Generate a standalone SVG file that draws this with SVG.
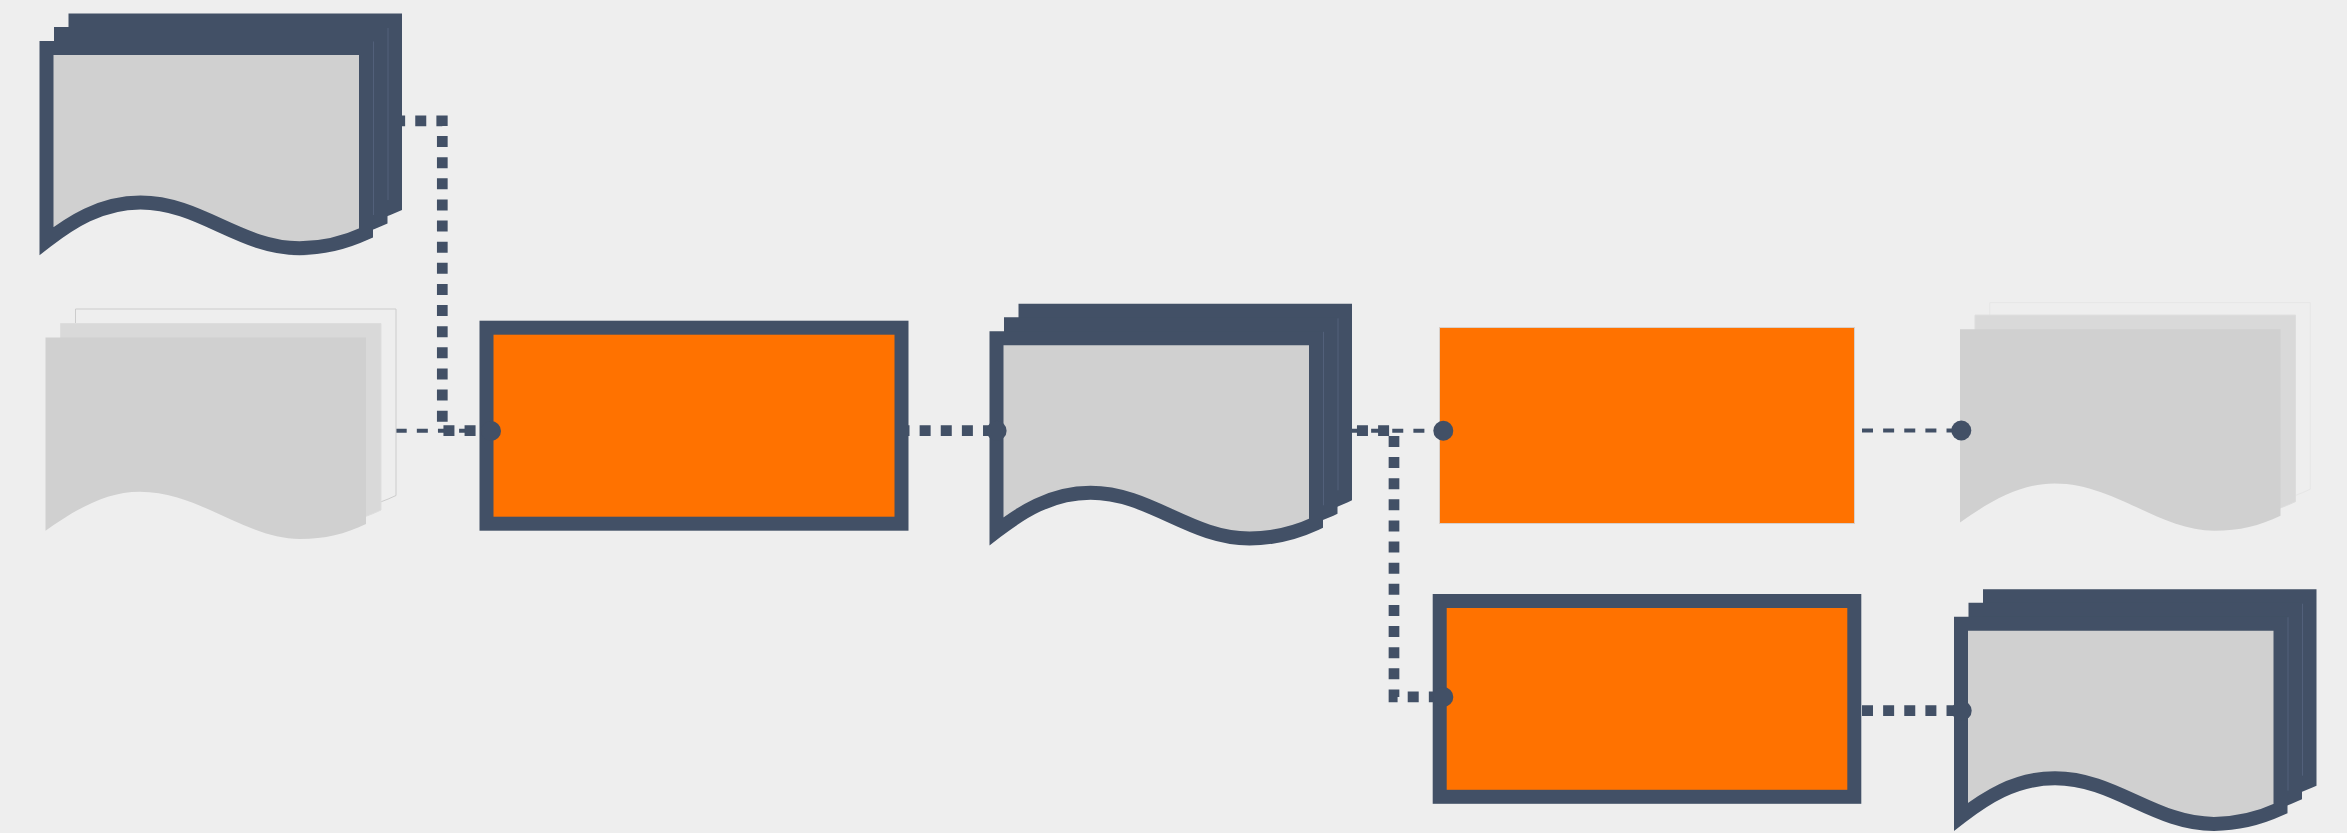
<svg xmlns="http://www.w3.org/2000/svg" xmlns:xlink="http://www.w3.org/1999/xlink" width="2347" height="833" viewBox="0 0 2347 833">
<style>
.bg{fill:#eeeeee}
.dk{fill:#d0d0d0;stroke:#425066;stroke-width:14;stroke-miterlimit:8}
.dkb{fill:#425066;stroke:#425066;stroke-width:14;stroke-miterlimit:8}
.seam{stroke:#52607a;stroke-width:1;fill:none}
.box{fill:#ff7200;stroke:#425066;stroke-width:14}
.boxlight{fill:#ff7200;stroke:#d8d0ca;stroke-width:1}
.thin{fill:none;stroke:#425066;stroke-width:4;stroke-dasharray:11 10.13}
.thick{fill:none;stroke:#425066;stroke-width:10.7;stroke-dasharray:11 10.13;stroke-miterlimit:8}
.dot{fill:#425066}
.l1{fill:#d0d0d0}
.l2{fill:#d9d9d9;stroke:#dddddd;stroke-width:1}
.l3{fill:#eeeeee;stroke:currentColor;stroke-width:1}
</style>
<defs>
<path id="darkPage" d="M46.5 48H366V233C342 244 322 248.2 299.5 248.2C240 248.2 200 202.5 140.5 202.5C100 202.5 70 223 46.5 241Z"/>
<path id="lightPage" d="M45.5 337.5H366V524C345 534 325 539 300 539C245 539 200 491.7 140 491.7C105 491.7 75 510 45.5 530.7Z"/>
<g id="darkDoc">
<use xlink:href="#darkPage" href="#darkPage" class="dkb" transform="translate(29,-27.5)"/>
<use xlink:href="#darkPage" href="#darkPage" class="dkb" transform="translate(14.5,-14)"/>
<use xlink:href="#darkPage" href="#darkPage" class="dk"/>
<path class="seam" d="M373.5 41.5V215M388 28V200"/>
</g>
</defs>
<rect class="bg" width="2347" height="833"/>
<g id="connectors">
<path class="thin" d="M395.7 430.7H491"/>
<path class="thick" d="M373 120.8H442.3V430.7H491"/>
<path class="thick" d="M898.5 430.7H996.5"/>
<path class="thin" d="M1350 430.7H1443.3"/>
<path class="thick" d="M1314.7 430.7H1394V696.9H1443.3"/>
<path class="thin" d="M1862 430.5H1961.3"/>
<path class="thick" d="M1862 710.7H1961.7"/>
</g>
<g id="doc-top-left"><use xlink:href="#darkDoc" href="#darkDoc"/></g>
<g id="doc-light-left" color="#cccccc">
<use xlink:href="#lightPage" href="#lightPage" class="l3" transform="translate(30,-28.5)"/>
<use xlink:href="#lightPage" href="#lightPage" class="l2" transform="translate(15,-14)"/>
<use xlink:href="#lightPage" href="#lightPage" class="l1"/>
</g>
<g id="process-1"><rect class="box" x="486.5" y="327.7" width="415" height="196"/></g>
<g id="doc-middle"><use xlink:href="#darkDoc" href="#darkDoc" transform="translate(950,290.3)"/></g>
<g id="process-2"><rect class="boxlight" x="1439.5" y="327.5" width="415" height="196"/></g>
<g id="process-3"><rect class="box" x="1439.7" y="601" width="414.6" height="195.8"/></g>
<g id="doc-light-right" color="#e6e6e6">
<use xlink:href="#lightPage" href="#lightPage" class="l3" transform="translate(1944.3,-34.8)"/>
<use xlink:href="#lightPage" href="#lightPage" class="l2" transform="translate(1929.5,-22.4)"/>
<use xlink:href="#lightPage" href="#lightPage" class="l1" transform="translate(1914.5,-8.2)"/>
</g>
<g id="doc-bottom-right"><use xlink:href="#darkDoc" href="#darkDoc" transform="translate(1914.5,575.7)"/></g>
<g id="connector-ends">
<circle class="dot" cx="491" cy="431" r="10"/>
<circle class="dot" cx="996.6" cy="430.7" r="10"/>
<circle class="dot" cx="1443.3" cy="430.7" r="10"/>
<circle class="dot" cx="1443.3" cy="697" r="10"/>
<circle class="dot" cx="1961.3" cy="430.5" r="10"/>
<circle class="dot" cx="1961.7" cy="710.7" r="10"/>
</g>
</svg>
